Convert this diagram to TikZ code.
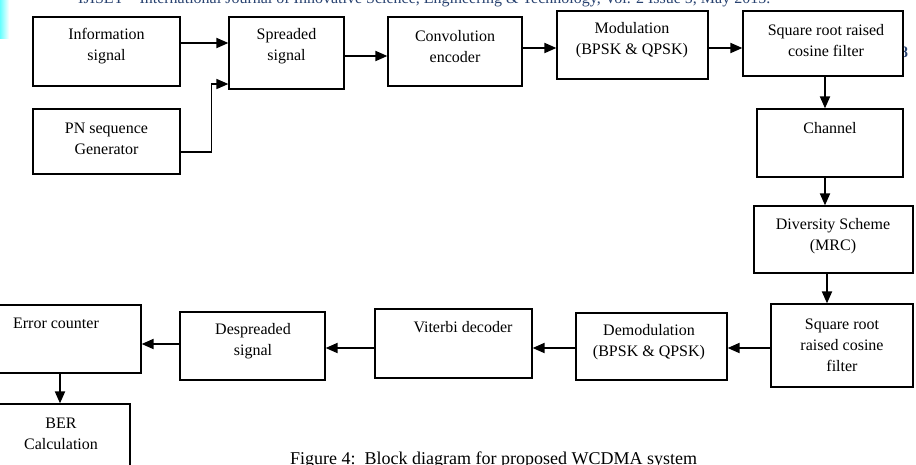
\documentclass[tikz,border=0pt]{standalone}
\usepackage{fontspec}
\setmainfont{Liberation Serif}
\usetikzlibrary{arrows.meta}
\definecolor{hdrblue}{RGB}{40,66,112}
\begin{document}
\begin{tikzpicture}[x=1pt,y=-1pt,
  blk/.style={draw=black, line width=1.2pt, fill=white, inner sep=0pt},
  txt/.style={font=\fontsize{16}{21}\selectfont, align=center, inner sep=0pt},
  arr/.style={line width=1.8pt, -{Triangle[length=12pt,width=10pt]}}]
\useasboundingbox (0,0) rectangle (916,464);
\clip (0,0) rectangle (916,464);
% page decorations
\shade[left color=cyan!60, right color=white] (0,0) rectangle (9,38);
\node[anchor=base west, font=\fontsize{16}{18}\selectfont, text=hdrblue, inner sep=0pt] (hdr) at (78,3)
  {IJISET -- International Journal of Innovative Science, Engineering \& Technology, Vol. 2 Issue 5, May 2015.};
\node[font=\bfseries\fontsize{16}{18}\selectfont, text=hdrblue, inner sep=0pt] (pg) at (904,52) {8};
% boxes
\node[blk, minimum width=147pt, minimum height=69pt] (info) at (106.5,51.5) {};
\node[blk, minimum width=147pt, minimum height=65pt] (pn) at (106.5,141.5) {};
\node[blk, minimum width=115pt, minimum height=72pt] (spread) at (286.5,53) {};
\node[blk, minimum width=134pt, minimum height=69pt] (conv) at (455,51.5) {};
\node[blk, minimum width=151pt, minimum height=68pt] (mod) at (632.5,45) {};
\node[blk, minimum width=160pt, minimum height=65pt] (srrc1) at (823,43.5) {};
\node[blk, minimum width=146pt, minimum height=68pt] (chan) at (830,143) {};
\node[blk, minimum width=159pt, minimum height=67pt] (div) at (833.5,239.5) {};
\node[blk, minimum width=142pt, minimum height=83pt] (srrc2) at (842,345.5) {};
\node[blk, minimum width=151pt, minimum height=67pt] (demod) at (651.5,346.5) {};
\node[blk, minimum width=157pt, minimum height=69pt] (vit) at (453.5,343.5) {};
\node[blk, minimum width=145pt, minimum height=68pt] (desp) at (252.5,346) {};
\node[blk, minimum width=144pt, minimum height=68pt] (err) at (69,339) {};
\node[blk, minimum width=133pt, minimum height=71pt] (ber) at (63.5,439.5) {};
% texts
\node[txt] (tinfo) at (106.5,46.5) {Information\\signal};
\node[txt] (tpn) at (106.5,139) {PN sequence\\Generator};
\node[txt] (tspread) at (286.5,46.5) {Spreaded\\signal};
\node[txt] (tconv) at (455,46.5) {Convolution\\encoder};
\node[txt] (tmod) at (632,40.5) {Modulation\\(BPSK \& QPSK)};
\node[txt] (tsrrc1) at (826,40.5) {Square root raised\\cosine filter};
\node[txt] (tchan) at (830,128) {Channel};
\node[txt] (tdiv) at (833,236) {Diversity Scheme\\(MRC)};
\node[txt] (tsrrc2) at (842,345) {Square root\\raised cosine\\filter};
\node[txt] (tdemod) at (649,342.5) {Demodulation\\(BPSK \& QPSK)};
\node[txt] (tvit) at (463,327) {Viterbi decoder};
\node[txt] (tdesp) at (253,341.5) {Despreaded\\signal};
\node[txt] (terr) at (56,323) {Error counter};
\node[txt] (tber) at (61,433.5) {BER\\Calculation};
% caption
\node[anchor=base west, font=\fontsize{18}{20}\selectfont, inner sep=0pt] (cap) at (290,464)
  {Figure 4:\ \ Block diagram for proposed WCDMA system};
% connectors
\draw[arr] ([yshift=8.5pt]info.east) -- ([yshift=8.5pt]info.east -| spread.west);
\draw[arr, line width=1.5pt] ([yshift=-10.5pt]pn.east) -| ([xshift=-17pt,yshift=-31pt]spread.west) -- ([yshift=-31pt]spread.west);
\draw[arr] ([yshift=-3pt]spread.east) -- ([yshift=-3pt]spread.east -| conv.west);
\draw[arr] ([yshift=3.5pt]conv.east) -- ([yshift=3.5pt]conv.east -| mod.west);
\draw[arr] ([yshift=-3pt]mod.east) -- ([yshift=-3pt]mod.east -| srrc1.west);
\draw[arr] ([xshift=2pt]srrc1.south) -- ([xshift=2pt]srrc1.south |- chan.north);
\draw[arr] ([xshift=-5pt]chan.south) -- ([xshift=-5pt]chan.south |- div.north);
\draw[arr] ([xshift=-6.5pt]div.south) -- ([xshift=-6.5pt]div.south |- srrc2.north);
\draw[arr] ([yshift=-2.5pt]srrc2.west) -- ([yshift=-2.5pt]srrc2.west -| demod.east);
\draw[arr] ([yshift=-1.5pt]demod.west) -- ([yshift=-1.5pt]demod.west -| vit.east);
\draw[arr] ([yshift=-4.5pt]vit.west) -- ([yshift=-4.5pt]vit.west -| desp.east);
\draw[arr] ([yshift=2pt]desp.west) -- ([yshift=2pt]desp.west -| err.east);
\draw[arr] ([xshift=-9pt]err.south) -- ([xshift=-9pt]err.south |- ber.north);
\end{tikzpicture}
\end{document}
